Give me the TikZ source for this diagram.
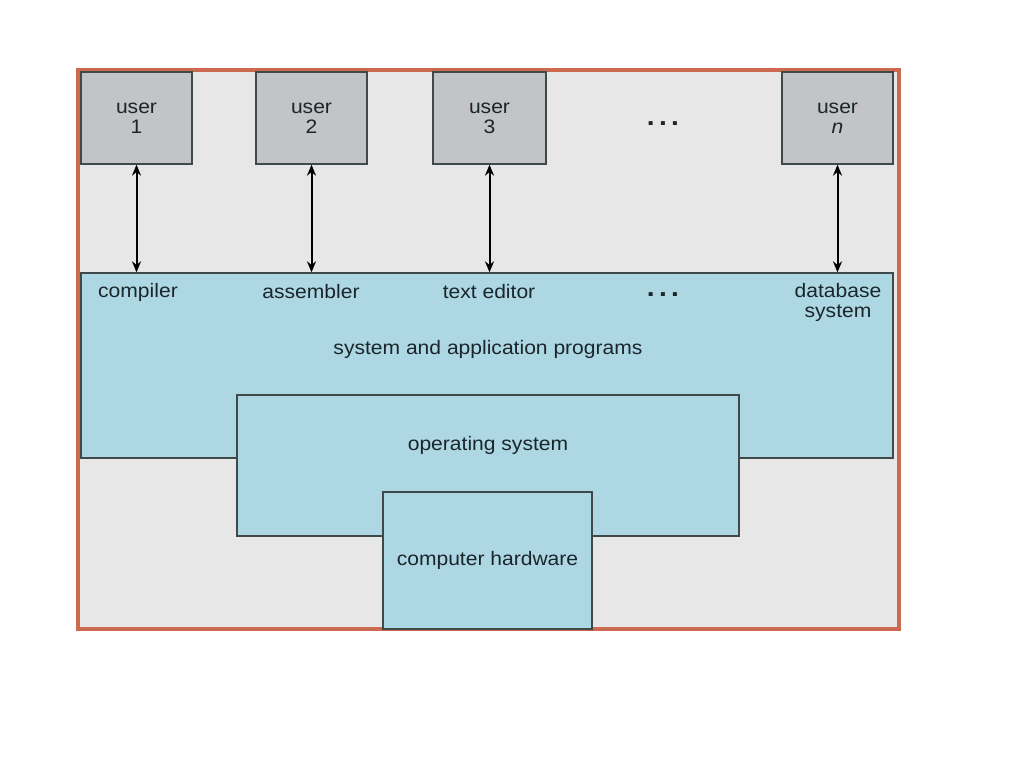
\documentclass[tikz,border=0pt]{standalone}
\usepackage{fontspec}
\setmainfont{Liberation Sans}[FakeStretch=1.08]
\usetikzlibrary{arrows.meta}
\definecolor{framered}{HTML}{CC6A4F}
\definecolor{panelgray}{HTML}{E7E7E7}
\definecolor{usergray}{HTML}{C2C4C6}
\definecolor{layerblue}{HTML}{AED7E4}
\definecolor{inkdark}{HTML}{1A262B}
\definecolor{edgegray}{HTML}{3F484B}
\tikzset{
  userbox/.style={draw=edgegray, fill=usergray, line width=1.3pt, minimum width=111pt, minimum height=92pt, align=center, text=inkdark, execute at begin node=\rule{0pt}{20pt}},
  layer/.style={draw=edgegray, fill=layerblue, line width=1.3pt, text=inkdark},
  tag/.style={text=inkdark, align=center},
  dots/.style={text=inkdark, font=\fontsize{26}{26}\selectfont\bfseries},
  link/.style={{Stealth[length=11pt,width=9pt]}-{Stealth[length=11pt,width=9pt]}, line width=2pt, black},
}

\begin{document}
\begin{tikzpicture}[x=1pt,y=-1pt,font=\fontsize{19.5}{20}\selectfont]
\useasboundingbox (0,0) rectangle (1024,768);
\fill[white] (0,0) rectangle (1024,768);
\draw[framered, line width=4pt, fill=panelgray] (78,70) rectangle (899,629);
% users
\node[userbox] (u1) at (136.5,118) {user\\1};
\node[userbox] (u2) at (311.5,118) {user\\2};
\node[userbox, minimum width=113pt] (u3) at (489.5,118) {user\\3};
\node[userbox] (un) at (837.5,118) {user\\\textit{n}};
\node[dots] (udots) at (663,124) {.\,.\,.};
% layers
\node[layer, minimum width=812pt, minimum height=185pt] (apps) at (487,365.5) {};
\node[layer, minimum width=502pt, minimum height=141pt] (os) at (488,465.5) {};
\node[layer, minimum width=209pt, minimum height=137pt] (hw) at (487.5,560.5) {computer hardware};
\node[tag] (compiler) at (138,292) {compiler};
\node[tag] (assembler) at (311,292) {assembler};
\node[tag] (editor) at (489,292) {text editor};
\node[dots] (pdots) at (663,295) {.\,.\,.};
\node[tag] (dbase) at (838,302) {database\\system};
\node[tag] (appslabel) at (488,349) {system and application programs};
\node[tag] (oslabel) at (488,445) {operating system};
% links
\draw[link] (u1) -- (u1 |- apps.north);
\draw[link] (u2) -- (u2 |- apps.north);
\draw[link] (u3) -- (u3 |- apps.north);
\draw[link] (un) -- (un |- apps.north);
\end{tikzpicture}
\end{document}
